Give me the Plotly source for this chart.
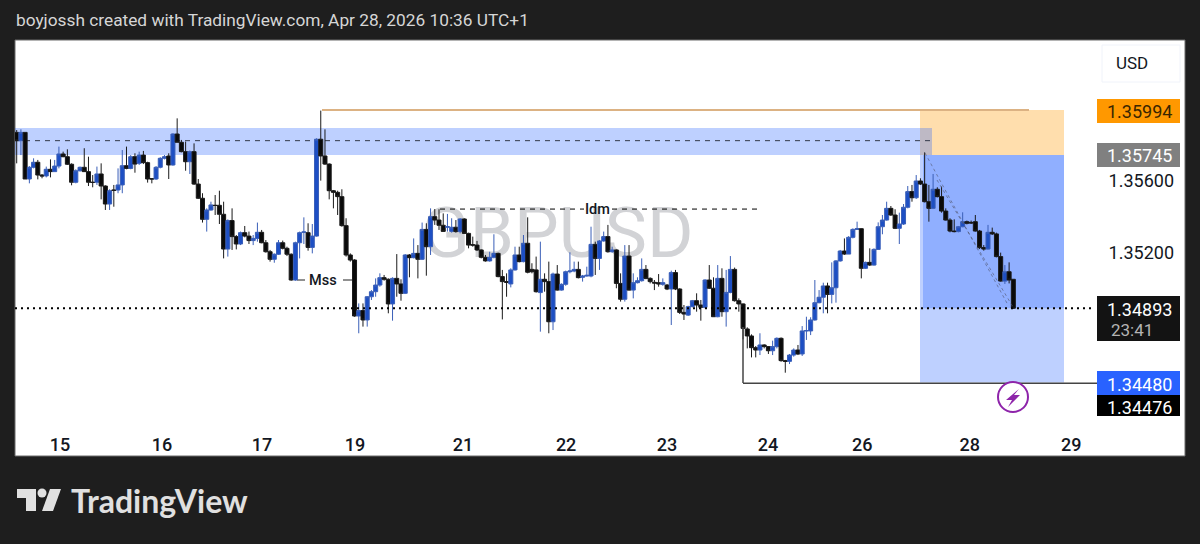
import numpy as np
import plotly.graph_objects as go

open_prices = [
    1.35870, 1.35824, 1.35870, 1.35611, 1.35676, 1.35704, 1.35633, 1.35628, 1.35665, 1.35652,
    1.35683, 1.35750, 1.35735, 1.35693, 1.35593, 1.35657, 1.35676, 1.35652, 1.35593, 1.35593,
    1.35639, 1.35572, 1.35472, 1.35550, 1.35550, 1.35578, 1.35685, 1.35670, 1.35735, 1.35698,
    1.35744, 1.35702, 1.35613, 1.35611, 1.35676, 1.35726, 1.35739, 1.35689, 1.35861, 1.35815,
    1.35763, 1.35707, 1.35763, 1.35583, 1.35504, 1.35387, 1.35439, 1.35465, 1.35465, 1.35415,
    1.35222, 1.35380, 1.35291, 1.35250, 1.35313, 1.35294, 1.35269, 1.35281, 1.35315, 1.35257,
    1.35207, 1.35165, 1.35193, 1.35257, 1.35226, 1.35193, 1.35050, 1.35257, 1.35315, 1.35313,
    1.35231, 1.35294, 1.35832, 1.35739, 1.35694, 1.35546, 1.35537, 1.35513, 1.35352, 1.35189,
    1.35161, 1.34850, 1.34880, 1.34828, 1.34957, 1.34985, 1.35022, 1.35063, 1.35054, 1.34917,
    1.35059, 1.35028, 1.34976, 1.35189, 1.35174, 1.35198, 1.35165, 1.35331, 1.35235, 1.35402,
    1.35383, 1.35354, 1.35343, 1.35320, 1.35343, 1.35319, 1.35389, 1.35309, 1.35246, 1.35244,
    1.35217, 1.35176, 1.35156, 1.35176, 1.35198, 1.35069, 1.35041, 1.35028, 1.35106, 1.35189,
    1.35152, 1.35254, 1.35109, 1.35106, 1.34980, 1.35054, 1.35041, 1.34818, 1.35083, 1.34994,
    1.35026, 1.35096, 1.35100, 1.35109, 1.35065, 1.35072, 1.35072, 1.35248, 1.35170, 1.35267,
    1.35291, 1.35207, 1.35217, 1.35031, 1.34943, 1.35183, 1.34994, 1.35035, 1.35046, 1.35109,
    1.35059, 1.35037, 1.35035, 1.35026, 1.35022, 1.35000, 1.35091, 1.35000, 1.34870, 1.34855,
    1.34902, 1.34935, 1.34911, 1.34898, 1.35050, 1.35004, 1.34846, 1.35059, 1.34874, 1.34981,
    1.35109, 1.34935, 1.34917, 1.34778, 1.34739, 1.34674, 1.34661, 1.34689, 1.34680, 1.34657,
    1.34680, 1.34726, 1.34602, 1.34598, 1.34633, 1.34661, 1.34639, 1.34767, 1.34767, 1.34828,
    1.34924, 1.34954, 1.35017, 1.34970, 1.35007, 1.35156, 1.35211, 1.35194, 1.35287, 1.35331,
    1.35335, 1.35115, 1.35148, 1.35133, 1.35220, 1.35346, 1.35383, 1.35448, 1.35411, 1.35337,
    1.35361, 1.35454, 1.35541, 1.35507, 1.35600, 1.35583, 1.35485, 1.35448, 1.35554, 1.35513,
    1.35433, 1.35383, 1.35322, 1.35319, 1.35346, 1.35374, 1.35370, 1.35374, 1.35322, 1.35230,
    1.35222, 1.35315, 1.35306, 1.35180, 1.35044, 1.35096, 1.35054,
]
high_prices = [
    1.35883, 1.35887, 1.35870, 1.35683, 1.35726, 1.35717, 1.35639, 1.35680, 1.35720, 1.35717,
    1.35791, 1.35763, 1.35776, 1.35698, 1.35665, 1.35680, 1.35782, 1.35735, 1.35633, 1.35680,
    1.35698, 1.35576, 1.35554, 1.35578, 1.35670, 1.35772, 1.35791, 1.35744, 1.35754, 1.35763,
    1.35767, 1.35707, 1.35613, 1.35683, 1.35732, 1.35744, 1.35754, 1.35865, 1.35948, 1.35828,
    1.35819, 1.35769, 1.35809, 1.35611, 1.35532, 1.35448, 1.35485, 1.35522, 1.35546, 1.35485,
    1.35387, 1.35448, 1.35300, 1.35319, 1.35350, 1.35319, 1.35300, 1.35369, 1.35328, 1.35272,
    1.35217, 1.35198, 1.35272, 1.35269, 1.35235, 1.35198, 1.35263, 1.35319, 1.35398, 1.35365,
    1.35361, 1.35837, 1.35991, 1.35887, 1.35698, 1.35550, 1.35546, 1.35554, 1.35393, 1.35198,
    1.35165, 1.34920, 1.34920, 1.34961, 1.34994, 1.35059, 1.35087, 1.35078, 1.35059, 1.35065,
    1.35194, 1.35054, 1.35194, 1.35194, 1.35281, 1.35244, 1.35369, 1.35365, 1.35448, 1.35444,
    1.35443, 1.35420, 1.35417, 1.35393, 1.35383, 1.35393, 1.35393, 1.35313, 1.35291, 1.35267,
    1.35220, 1.35189, 1.35207, 1.35304, 1.35202, 1.35106, 1.35087, 1.35115, 1.35235, 1.35235,
    1.35300, 1.35398, 1.35143, 1.35180, 1.35263, 1.35087, 1.35152, 1.35091, 1.35133, 1.35031,
    1.35102, 1.35204, 1.35152, 1.35152, 1.35078, 1.35124, 1.35346, 1.35263, 1.35272, 1.35319,
    1.35356, 1.35235, 1.35220, 1.35087, 1.35244, 1.35244, 1.35087, 1.35065, 1.35170, 1.35133,
    1.35065, 1.35050, 1.35083, 1.35059, 1.35028, 1.35102, 1.35106, 1.35004, 1.34911, 1.34907,
    1.34939, 1.34976, 1.34939, 1.35054, 1.35133, 1.35065, 1.35133, 1.35115, 1.35106, 1.35183,
    1.35119, 1.34948, 1.34920, 1.34787, 1.34748, 1.34683, 1.34754, 1.34693, 1.34683, 1.34713,
    1.34731, 1.34731, 1.34606, 1.34639, 1.34670, 1.34689, 1.34794, 1.34846, 1.34843, 1.35050,
    1.34994, 1.35035, 1.35035, 1.35148, 1.35161, 1.35217, 1.35281, 1.35294, 1.35337, 1.35374,
    1.35337, 1.35152, 1.35226, 1.35226, 1.35370, 1.35411, 1.35485, 1.35461, 1.35443, 1.35424,
    1.35472, 1.35572, 1.35578, 1.35633, 1.35615, 1.35759, 1.35578, 1.35639, 1.35565, 1.35569,
    1.35448, 1.35393, 1.35387, 1.35350, 1.35426, 1.35380, 1.35380, 1.35411, 1.35328, 1.35244,
    1.35356, 1.35341, 1.35313, 1.35202, 1.35133, 1.35148, 1.35054,
]
low_prices = [
    1.35698, 1.35744, 1.35611, 1.35587, 1.35670, 1.35609, 1.35615, 1.35620, 1.35620, 1.35652,
    1.35670, 1.35732, 1.35689, 1.35576, 1.35587, 1.35652, 1.35652, 1.35572, 1.35565, 1.35578,
    1.35498, 1.35439, 1.35439, 1.35457, 1.35532, 1.35532, 1.35665, 1.35665, 1.35646, 1.35689,
    1.35694, 1.35591, 1.35587, 1.35606, 1.35670, 1.35720, 1.35611, 1.35685, 1.35815, 1.35759,
    1.35657, 1.35639, 1.35578, 1.35500, 1.35369, 1.35319, 1.35435, 1.35411, 1.35361, 1.35170,
    1.35180, 1.35217, 1.35220, 1.35244, 1.35287, 1.35250, 1.35244, 1.35263, 1.35254, 1.35202,
    1.35152, 1.35146, 1.35189, 1.35220, 1.35183, 1.35046, 1.35046, 1.35170, 1.35250, 1.35213,
    1.35198, 1.35291, 1.35602, 1.35689, 1.35498, 1.35448, 1.35411, 1.35346, 1.35180, 1.35152,
    1.34846, 1.34754, 1.34791, 1.34791, 1.34939, 1.34957, 1.35013, 1.35046, 1.34865, 1.34824,
    1.34957, 1.34935, 1.34972, 1.35065, 1.35170, 1.35059, 1.35161, 1.35074, 1.35189, 1.35356,
    1.35328, 1.35319, 1.35319, 1.35313, 1.35313, 1.35309, 1.35306, 1.35226, 1.35235, 1.35211,
    1.35170, 1.35152, 1.35152, 1.35170, 1.35065, 1.34831, 1.34957, 1.35009, 1.35102, 1.35148,
    1.35148, 1.35087, 1.35087, 1.34980, 1.34763, 1.34985, 1.34754, 1.34772, 1.34991, 1.34991,
    1.35018, 1.35087, 1.35093, 1.35059, 1.35041, 1.35069, 1.35065, 1.35078, 1.35106, 1.35263,
    1.35202, 1.35202, 1.35004, 1.34930, 1.34930, 1.34991, 1.34948, 1.35031, 1.35041, 1.35054,
    1.35031, 1.34994, 1.35013, 1.35018, 1.34994, 1.34800, 1.34994, 1.34861, 1.34828, 1.34850,
    1.34898, 1.34874, 1.34824, 1.34893, 1.35000, 1.34846, 1.34843, 1.34846, 1.34791, 1.34976,
    1.34930, 1.34874, 1.34720, 1.34670, 1.34620, 1.34620, 1.34633, 1.34670, 1.34639, 1.34633,
    1.34670, 1.34596, 1.34535, 1.34583, 1.34624, 1.34633, 1.34628, 1.34717, 1.34744, 1.34824,
    1.34920, 1.34865, 1.34865, 1.34920, 1.34924, 1.35152, 1.35189, 1.35194, 1.35281, 1.35328,
    1.35059, 1.35111, 1.35128, 1.35130, 1.35217, 1.35304, 1.35380, 1.35406, 1.35333, 1.35250,
    1.35356, 1.35448, 1.35485, 1.35500, 1.35578, 1.35481, 1.35374, 1.35444, 1.35509, 1.35424,
    1.35380, 1.35315, 1.35315, 1.35315, 1.35343, 1.35359, 1.35361, 1.35319, 1.35222, 1.35213,
    1.35219, 1.35300, 1.35176, 1.35041, 1.35028, 1.35031, 1.34889,
]
close_prices = [
    1.35824, 1.35870, 1.35611, 1.35676, 1.35704, 1.35633, 1.35628, 1.35665, 1.35652, 1.35683,
    1.35750, 1.35735, 1.35693, 1.35593, 1.35657, 1.35676, 1.35652, 1.35593, 1.35592, 1.35639,
    1.35572, 1.35472, 1.35546, 1.35548, 1.35578, 1.35685, 1.35670, 1.35735, 1.35694, 1.35744,
    1.35702, 1.35611, 1.35611, 1.35676, 1.35726, 1.35735, 1.35689, 1.35861, 1.35815, 1.35763,
    1.35707, 1.35763, 1.35583, 1.35504, 1.35387, 1.35439, 1.35467, 1.35464, 1.35415, 1.35222,
    1.35380, 1.35291, 1.35250, 1.35313, 1.35294, 1.35269, 1.35281, 1.35315, 1.35257, 1.35207,
    1.35165, 1.35193, 1.35257, 1.35226, 1.35193, 1.35050, 1.35257, 1.35313, 1.35317, 1.35231,
    1.35294, 1.35832, 1.35739, 1.35694, 1.35546, 1.35537, 1.35513, 1.35352, 1.35189, 1.35161,
    1.34850, 1.34880, 1.34828, 1.34957, 1.34985, 1.35022, 1.35063, 1.35054, 1.34917, 1.35059,
    1.35028, 1.34976, 1.35189, 1.35174, 1.35198, 1.35165, 1.35331, 1.35235, 1.35402, 1.35383,
    1.35354, 1.35320, 1.35346, 1.35343, 1.35319, 1.35389, 1.35309, 1.35244, 1.35244, 1.35217,
    1.35176, 1.35156, 1.35176, 1.35198, 1.35069, 1.35041, 1.35037, 1.35106, 1.35189, 1.35152,
    1.35254, 1.35093, 1.35096, 1.34985, 1.35054, 1.35041, 1.34818, 1.35083, 1.34994, 1.35026,
    1.35096, 1.35100, 1.35109, 1.35063, 1.35072, 1.35076, 1.35248, 1.35170, 1.35267, 1.35291,
    1.35207, 1.35217, 1.35031, 1.34943, 1.35183, 1.34994, 1.35035, 1.35046, 1.35109, 1.35059,
    1.35041, 1.35033, 1.35028, 1.35035, 1.35000, 1.35091, 1.35000, 1.34870, 1.34861, 1.34902,
    1.34935, 1.34911, 1.34898, 1.35050, 1.35004, 1.34846, 1.35059, 1.34874, 1.34981, 1.35109,
    1.34935, 1.34917, 1.34781, 1.34739, 1.34674, 1.34661, 1.34689, 1.34680, 1.34657, 1.34680,
    1.34726, 1.34602, 1.34598, 1.34633, 1.34661, 1.34639, 1.34767, 1.34769, 1.34828, 1.34924,
    1.34954, 1.35017, 1.34970, 1.35007, 1.35156, 1.35211, 1.35194, 1.35287, 1.35331, 1.35335,
    1.35115, 1.35148, 1.35133, 1.35220, 1.35346, 1.35383, 1.35448, 1.35411, 1.35337, 1.35361,
    1.35454, 1.35541, 1.35507, 1.35600, 1.35583, 1.35485, 1.35448, 1.35554, 1.35513, 1.35433,
    1.35383, 1.35322, 1.35319, 1.35346, 1.35374, 1.35365, 1.35367, 1.35322, 1.35230, 1.35222,
    1.35315, 1.35306, 1.35180, 1.35044, 1.35096, 1.35050, 1.34893,
]

# positions of the date labels, in bars
day_ticks = [10.25, 34.4, 58.1, 80.1, 105.7, 130.1, 154, 177.9, 200.2, 225.7, 249.7]
day_labels = ["15", "16", "17", "19", "21", "22", "23", "24", "26", "28", "29"]

price_ticks = [1.352, 1.356]
price_tick_labels = ["1.35200", "1.35600"]

stop_price = 1.35994
entry_price = 1.35745
last_price = 1.34893
target_price = 1.34480
low_line_price = 1.34476
zone_top = 1.35894
zone_bottom = 1.35744
zone_mid = 1.35824
idm_price = 1.35444
mss_price = 1.35050

bars = np.arange(len(close_prices))


# pixel to paper helpers for the overlays
def X(px):
    return (px - 15) / 1079


def Y(py):
    return (420 - py) / 380


fig = go.Figure()

fig.add_trace(go.Candlestick(
    x=bars, open=open_prices, high=high_prices, low=low_prices, close=close_prices,
    increasing=dict(fillcolor="#1d4fc4", line=dict(color="#3a5fb8", width=1)),
    decreasing=dict(fillcolor="#0a0a0a", line=dict(color="#1a1a1a", width=1)),
    whiskerwidth=0, hoverinfo="skip", showlegend=False,
))


def rect(x0, x1, y0, y1, color, yref="y", layer="below", line=None):
    fig.add_shape(type="rect", xref="paper", yref=yref, x0=X(x0), x1=X(x1), y0=y0, y1=y1,
                  fillcolor=color, line=line or dict(width=0), layer=layer)


def hline(x0, x1, y, color, width=1, dash="solid", layer="below"):
    fig.add_shape(type="line", xref="paper", yref="y", x0=X(x0), x1=X(x1), y0=y, y1=y,
                  line=dict(color=color, width=width, dash=dash), layer=layer)


def text(px, py, s, size=18, color="#131722", anchor="left", weight=400, family="Roboto"):
    fig.add_annotation(xref="paper", yref="paper", x=X(px), y=Y(py), text=s, showarrow=False,
                       xanchor=anchor, yanchor="middle", borderpad=0,
                       font=dict(family=family, size=size, color=color, weight=weight))


# white chart panel
rect(15, 1185, Y(456), Y(40), "#ffffff", yref="paper", line=dict(color="#6a6a6a", width=1))

# watermark
fig.add_shape(type="rect", xref="paper", yref="paper", x0=X(400), x1=X(715), y0=Y(270), y1=Y(185),
              fillcolor="rgba(0,0,0,0)", line=dict(width=0), layer="below",
              label=dict(text="GBPUSD", textposition="middle center", xanchor="center",
                         font=dict(family="Roboto", size=71, color="#d2d3d6")))

# position tool and supply zone
rect(920, 1064, entry_price, stop_price, "rgba(255,152,0,0.32)")
rect(920, 1064, target_price, entry_price, "rgba(41,98,255,0.30)")
rect(923, 1064, last_price, entry_price, "rgba(41,98,255,0.30)")
rect(15, 932, zone_bottom, zone_top, "rgba(41,98,255,0.30)")
hline(15, 932, zone_mid, "#333a4a", dash="5px,5px")
hline(322, 1029, stop_price, "#dcb283", width=2)

# channel inside the position
for a, b in [((925, 153), (1008, 305)), ((937, 180), (1013, 307))]:
    fig.add_shape(type="line", xref="paper", yref="paper", x0=X(a[0]), y0=Y(a[1]), x1=X(b[0]), y1=Y(b[1]),
                  line=dict(color="rgba(80,85,110,0.6)", width=1, dash="3px,3px"), layer="above")

# Idm and Mss
hline(440, 584, idm_price, "#000000", dash="5px,5px")
hline(612, 760, idm_price, "#000000", dash="5px,5px")
text(597, 209, "Idm", size=14.5, anchor="center", weight=500)
hline(297, 305, mss_price, "#222222")
hline(343, 353, mss_price, "#222222")
text(323, 280, "Mss", size=14.5, anchor="center", weight=500)

# swing low line
fig.add_shape(type="line", xref="paper", yref="paper", x0=X(743), x1=X(743), y0=Y(327), y1=Y(383),
              line=dict(color="#444444", width=1.5), layer="above")
hline(743, 1097, low_line_price, "#444444", width=1.5, layer="above")

hline(15, 1094, last_price, "#000000", width=2, dash="2px,4px", layer="above")

# bolt badge
fig.add_shape(type="circle", xref="paper", yref="paper", x0=X(998), x1=X(1028), y0=Y(412), y1=Y(382),
              fillcolor="#ffffff", line=dict(color="#8e24aa", width=2), layer="above")
bolt = [(1019, 389), (1006, 400), (1012, 400), (1008, 407), (1020, 395), (1014, 395)]
fig.add_shape(type="path", xref="paper", yref="paper", fillcolor="#8e24aa", line=dict(width=0), layer="above",
              path="M " + " L ".join(f"{X(a)} {Y(b)}" for a, b in bolt) + " Z")

# USD button
fig.add_shape(type="rect", xref="paper", yref="paper", x0=X(1102), x1=X(1180), y0=Y(82), y1=Y(45),
              fillcolor="#ffffff", line=dict(color="#f0f3fa", width=1), layer="below")
text(1115, 63, "USD", size=17)

# price labels on the right
rect(1097, 1180, Y(123), Y(99), "#ff9800", yref="paper", layer="above")
text(1173, 111, "1.35994", color="#3a2600", anchor="right")
rect(1097, 1180, Y(167), Y(143), "#808080", yref="paper", layer="above")
text(1173, 155, "1.35745", color="#ffffff", anchor="right")
rect(1097, 1180, Y(341), Y(296), "#131313", yref="paper", layer="above")
text(1173, 309, "1.34893", color="#ffffff", anchor="right")
text(1110, 330, "23:41", size=17, color="#b4b4b4")
rect(1097, 1180, Y(416), Y(395), "#000000", yref="paper", layer="above")
text(1173, 407, "1.34476", color="#ffffff", anchor="right")
rect(1097, 1180, Y(395), Y(371), "#2962ff", yref="paper", layer="above")
text(1173, 384, "1.34480", color="#ffffff", anchor="right")

# page header and logo
text(15, 20, "boyjossh created with TradingView.com, Apr 28, 2026 10:36 UTC+1", size=17.3, color="#d6d6d6")

logo = [
    [(17, 489), (36, 489), (36, 511), (26, 511), (26, 498), (17, 498)],
    [(50, 489), (61, 489), (53, 511), (42, 511)],
]
for part in logo:
    fig.add_shape(type="path", xref="paper", yref="paper", fillcolor="#e0e0e0", line=dict(width=0),
                  path="M " + " L ".join(f"{X(a)} {Y(b)}" for a, b in part) + " Z")
fig.add_shape(type="circle", xref="paper", yref="paper", x0=X(37.5), x1=X(46.5), y0=Y(497.5), y1=Y(488.5),
              fillcolor="#e0e0e0", line=dict(width=0))
text(70, 500, "TradingView", size=32, color="#e0e0e0", weight=700, family="Lato")

fig.update_layout(
    width=1200, height=544,
    margin=dict(l=15, r=106, t=40, b=124),
    paper_bgcolor="#1e1e1e", plot_bgcolor="rgba(0,0,0,0)",
    showlegend=False, boxgap=0.05, boxgroupgap=0,
    font=dict(family="Roboto"),
    xaxis=dict(range=[-0.4, 255.1], rangeslider=dict(visible=False), showgrid=False, zeroline=False,
               showline=False, tickmode="array", tickvals=day_ticks, ticktext=day_labels,
               ticks="outside", ticklen=8, tickcolor="rgba(0,0,0,0)",
               tickfont=dict(family="Roboto", size=18, color="#131722", weight=500)),
    yaxis=dict(range=[1.342722, 1.363833], side="right", showgrid=False, zeroline=False, showline=False,
               tickmode="array", tickvals=price_ticks, ticktext=price_tick_labels,
               ticks="outside", ticklen=10, tickcolor="rgba(0,0,0,0)",
               tickfont=dict(family="Roboto", size=18, color="#131722")),
)

# the page body has a default margin that would shift the chart
fig.write_html("out.html", config={"displayModeBar": False},
               post_script="document.body.style.margin='0';")
